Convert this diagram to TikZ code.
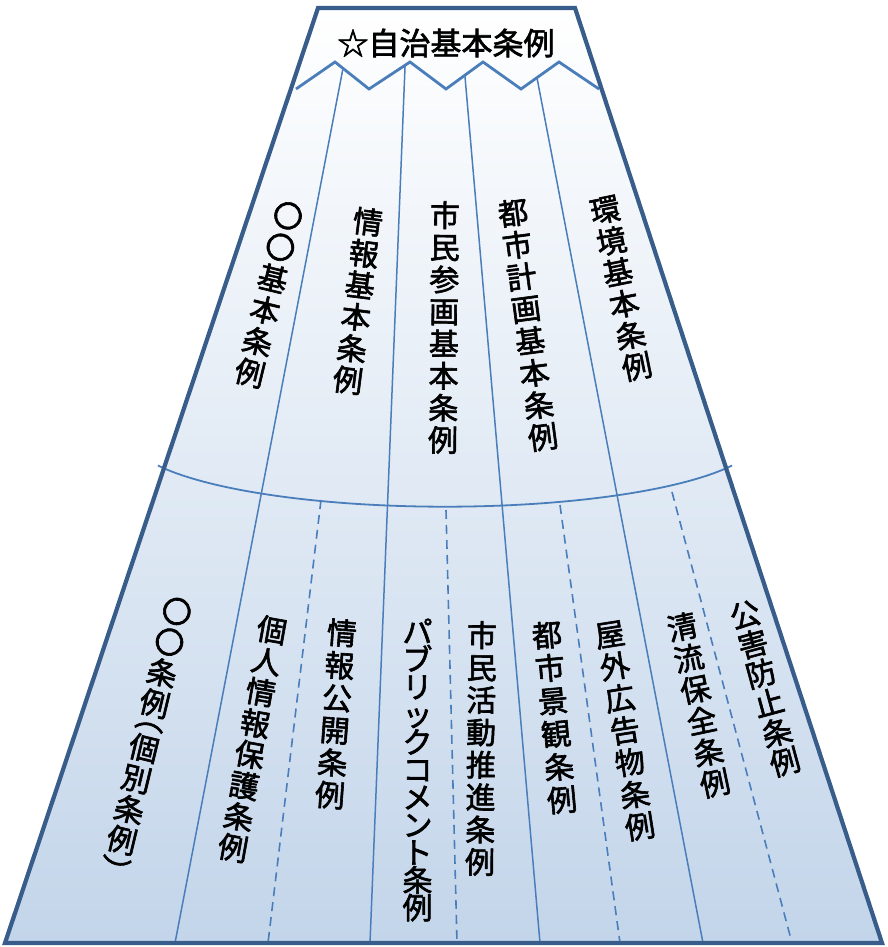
\documentclass[tikz,border=0pt]{standalone}
\usepackage{fontspec}
\newfontfamily\jp[FakeBold=2]{Noto Sans CJK JP}
\usetikzlibrary{calc}
\definecolor{edge}{RGB}{56,93,138}
\definecolor{ln}{RGB}{74,126,187}
\definecolor{fbot}{RGB}{195,213,234}
\definecolor{ftop}{RGB}{255,255,255}
\newcommand\vf[1]{\jp\fontsize{30}{#1}\selectfont\lineskiplimit=-100pt\relax}
\begin{document}
\begin{tikzpicture}[x=1pt,y=-1pt,
 lab/.style={align=center,inner sep=0pt,text=black,font=\vf{#1}},
 lab/.default=32,
 sepline/.style={draw=ln,line width=1.5pt},
 dline/.style={draw=ln,line width=1.6pt,dash pattern=on 9pt off 6pt},
 zig/.style={draw=ln,line width=2.8pt,line join=miter},
 outline/.style={draw=edge,line width=4.2pt,line join=miter}]
\useasboundingbox (0,0) rectangle (887,947);
% trapezoid
\coordinate (TL) at (318,8);
\coordinate (TR) at (575,8);
\coordinate (BR) at (882,943);
\coordinate (BL) at (5,943);
\shade[top color=ftop,bottom color=fbot] (TL)--(TR)--(BR)--(BL)--cycle;
% zigzag
\coordinate (z1) at (296,89);
\coordinate (z2) at (335,62);
\coordinate (z3) at (369,89);
\coordinate (z4) at (410,62);
\coordinate (z5) at (446,89);
\coordinate (z6) at (483,62);
\coordinate (z7) at (521,89);
\coordinate (z8) at (559,62);
\coordinate (z9) at (599,89);
% bottom ends
\coordinate (b1) at (175,943);
\coordinate (b2) at (370,943);
\coordinate (b3) at (540,943);
\coordinate (b4) at (703,943);
\draw[sepline] ($(z2)!0.235!(z3)$) -- (b1);
\draw[sepline] ($(z3)!0.88!(z4)$) -- (b2);
\draw[sepline] ($(z5)!0.51!(z6)$) -- (b3);
\draw[sepline] ($(z7)!0.42!(z8)$) -- (b4);
% dashed lines
\coordinate (d1t) at (321,500);
\coordinate (d1b) at (268,943);
\coordinate (d2t) at (446,510);
\coordinate (d2b) at (457,943);
\coordinate (d3t) at (560,505);
\coordinate (d3b) at (620,943);
\coordinate (d4t) at (672,492);
\coordinate (d4b) at (792,943);
\draw[dline] (d1t) -- (d1b);
\draw[dline] (d2t) -- (d2b);
\draw[dline] (d3t) -- (d3b);
\draw[dline] (d4t) -- (d4b);
% arc
\draw[draw=ln,line width=1.8pt] plot[domain=204.3:335.7,samples=60,smooth] ({445+315*cos(\x)},{436.7-70*sin(\x)});
\draw[zig] (z1)--(z2)--(z3)--(z4)--(z5)--(z6)--(z7)--(z8)--(z9);
\draw[outline] (TL)--(TR)--(BR)--(BL)--cycle;
% title
\node[inner sep=0pt,font=\jp\fontsize{31}{32}\selectfont] (title) at (446,43) {☆自治基本条例};
% upper labels
\node[lab=32.3,rotate=-13.6] (u1) at (269,294.5) {〇\\〇\\基\\本\\条\\例};
\node[lab=31.9,rotate=-7.2] (u2) at (358,301) {情\\報\\基\\本\\条\\例};
\node[lab=32.1,rotate=-0.5] (u3) at (444,327.5) {市\\民\\参\\画\\基\\本\\条\\例};
\node[lab=32.3,rotate=7.6] (u4) at (528,325) {都\\市\\計\\画\\基\\本\\条\\例};
\node[lab=32,rotate=11.5] (u5) at (621,288.5) {環\\境\\基\\本\\条\\例};
% lower labels
\node[lab=31.5,rotate=-13.5] (l1) at (146,740) {〇\\〇\\条\\例\\[-17pt]︵\\個\\別\\条\\例\\︶};
\node[lab=31.6,rotate=-10.1] (l2) at (252.5,739) {個\\人\\情\\報\\保\\護\\条\\例};
\node[lab=32.5,rotate=-4.2] (l3) at (336,714) {情\\報\\公\\開\\条\\例};
\node[lab=27.6,rotate=0] (l4) at (417.5,770) {パ\\ブ\\リ\\ッ\\ク\\コ\\メ\\ン\\ト\\条\\例};
\node[lab=32.4,rotate=-0.5] (l5) at (481,748.5) {市\\民\\活\\動\\推\\進\\条\\例};
\node[lab=33.1,rotate=5.2] (l6) at (554.5,717.5) {都\\市\\景\\観\\条\\例};
\node[lab=32.4,rotate=8.9] (l7) at (625,731) {屋\\外\\広\\告\\物\\条\\例};
\node[lab=31.9,rotate=11.9] (l8) at (698.5,705) {清\\流\\保\\全\\条\\例};
\node[lab=30.5,rotate=15.2] (l9) at (765,688.5) {公\\害\\防\\止\\条\\例};
\end{tikzpicture}
\end{document}
